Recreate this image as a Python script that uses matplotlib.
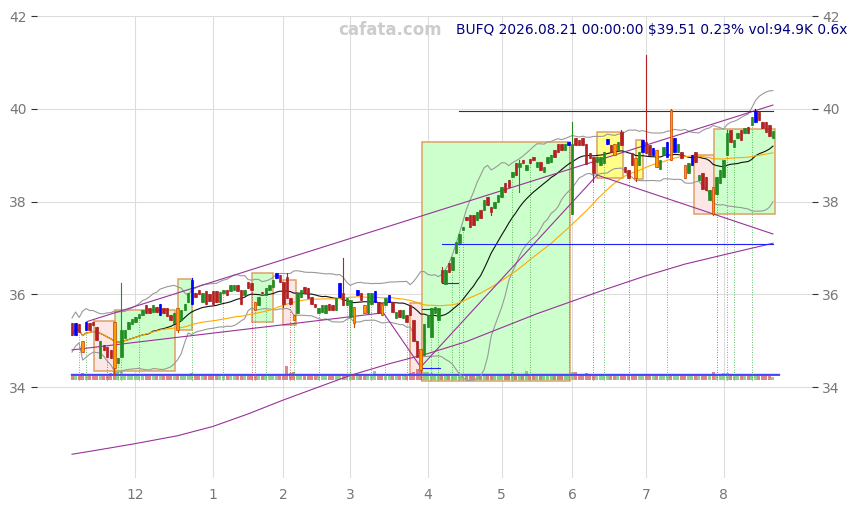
import numpy as np
import pandas as pd
import matplotlib
matplotlib.use("Agg")
import matplotlib.pyplot as plt
from matplotlib.patches import Rectangle

# ---------------- data ----------------
holidays = ["2025-11-27", "2025-12-25", "2026-01-01", "2026-01-19", "2026-02-16",
            "2026-04-03", "2026-05-25", "2026-06-19", "2026-07-03"]
dates = pd.bdate_range("2025-11-04", "2026-08-21", freq="C", holidays=holidays)

opens = [
    35.37, 35.12, 35.35, 35.00, 35.22, 35.37, 35.41, 35.30, 34.62, 34.91, 34.87, 34.80, 35.40, 34.51, 34.65, 35.05, 35.25, 35.36,
    35.40, 35.48, 35.55, 35.77, 35.70, 35.62, 35.73, 35.55, 35.71, 35.70, 35.55, 35.37, 35.70, 35.44, 35.66, 35.84, 35.80, 36.02, 36.10, 35.84, 36.06, 36.00,
    36.06, 36.06, 35.84, 36.02, 36.09, 36.06, 36.09, 36.20, 36.09, 35.98, 36.27, 36.24, 35.84, 35.77, 36.05, 35.98, 36.09, 36.16, 36.34, 36.42,
    36.27, 36.38, 35.91, 35.55, 35.59, 35.95, 36.16, 36.13, 35.95, 35.80, 35.59, 35.62, 35.60, 35.80, 35.77, 35.66, 35.95, 36.02, 35.77,
    35.52, 35.73, 35.98, 36.02, 35.77, 35.59, 35.80, 35.84, 35.84, 35.80, 35.77, 35.84, 35.84, 35.48, 35.66, 35.48, 35.55, 35.77, 35.44, 35.00, 34.83, 34.70,
    35.30, 35.08, 35.59, 35.45, 36.52, 36.23, 36.67, 36.52, 36.88, 37.10, 37.38, 37.67, 37.71, 37.71, 37.60, 37.82, 37.82, 38.10, 37.89, 37.85, 38.00,
    38.10, 38.39, 38.46, 38.53, 38.82, 38.75, 38.89, 38.68, 38.91, 38.97, 38.75, 38.86, 38.64, 38.82, 38.85, 39.11, 39.25, 39.25, 39.11, 39.22,
    37.74, 39.36, 39.33, 39.36, 39.25, 39.04, 38.97, 38.86, 38.79, 38.82, 39.24, 39.22, 39.25, 39.11, 39.50, 38.75, 38.68, 39.04, 38.93, 38.79, 39.07,
    39.29, 39.22, 39.00, 39.11, 38.71, 39.00, 38.97, 39.97, 39.07, 39.07, 39.07, 38.79, 38.61, 38.79, 39.07, 38.46, 38.61, 38.53, 38.03, 38.32, 38.17, 38.39,
    38.53, 39.00, 39.54, 39.18, 39.36, 39.54, 39.47, 39.61, 39.65, 39.72, 39.94, 39.72, 39.72, 39.65, 39.36,
]
closes = [
    35.12, 35.38, 35.18, 34.75, 35.40, 35.23, 35.34, 35.02, 35.00, 34.80, 34.65, 34.62, 34.40, 34.62, 35.23, 35.23, 35.40, 35.47,
    35.52, 35.58, 35.66, 35.59, 35.59, 35.76, 35.62, 35.80, 35.60, 35.53, 35.45, 35.59, 35.23, 35.66, 35.80, 36.02, 36.30, 35.95, 36.00, 36.02, 35.80, 35.85,
    35.80, 35.84, 36.05, 36.09, 35.98, 36.20, 36.20, 36.06, 35.80, 36.09, 36.13, 36.09, 35.66, 35.95, 36.02, 36.13, 36.20, 36.31, 36.45, 36.27,
    35.80, 35.91, 35.80, 35.44, 36.02, 36.09, 36.02, 35.91, 35.80, 35.73, 35.70, 35.77, 35.77, 35.66, 35.66, 35.91, 36.24, 35.77, 35.91,
    35.88, 35.37, 36.09, 35.88, 35.59, 36.02, 36.02, 36.06, 35.59, 35.55, 35.91, 35.98, 35.62, 35.62, 35.52, 35.66, 35.41, 35.55, 35.00, 34.65, 34.37, 35.35,
    35.55, 35.70, 35.73, 35.70, 36.27, 36.52, 36.49, 36.81, 37.13, 37.31, 37.46, 37.60, 37.46, 37.49, 37.78, 37.64, 38.03, 37.92, 37.78, 38.00, 38.15,
    38.32, 38.21, 38.32, 38.64, 38.57, 38.82, 38.82, 38.79, 38.82, 38.89, 38.86, 38.68, 38.75, 38.97, 39.00, 38.97, 39.07, 39.10, 39.25, 39.29,
    39.25, 39.22, 39.22, 39.22, 38.80, 38.93, 38.61, 38.97, 38.97, 39.07, 39.34, 39.07, 39.00, 39.29, 39.22, 38.64, 38.50, 38.79, 38.50, 39.07, 39.33,
    39.04, 39.00, 39.15, 38.75, 38.89, 39.18, 39.29, 38.90, 39.36, 39.25, 38.93, 38.50, 38.82, 39.00, 38.86, 38.57, 38.28, 38.25, 38.25, 37.74, 38.53, 38.68,
    38.90, 39.47, 39.29, 39.33, 39.47, 39.33, 39.58, 39.47, 39.83, 39.96, 39.76, 39.58, 39.50, 39.42, 39.51,
]
# notable wicks (index: price)
high_ext = {14: 36.24, 34: 36.34, 61: 36.45, 77: 36.78, 105: 36.58, 127: 38.90, 142: 39.72,
            156: 39.55, 163: 41.16, 170: 40.00, 186: 39.55, 194: 40.00}
low_ext = {12: 34.25, 30: 35.18, 60: 35.72, 80: 35.30, 99: 34.25, 119: 37.70, 127: 38.21,
           148: 38.43, 160: 38.45, 182: 37.70}

volumes_k = [
    150, 170, 140, 210, 160, 150, 140, 170, 190, 160, 180, 200, 260, 230, 240, 170, 150, 140,
    160, 150, 140, 150, 130, 140, 150, 160, 140, 150, 150, 140, 170, 150, 140, 160, 200, 150, 140, 150, 160, 170,
    150, 140, 160, 150, 140, 150, 160, 150, 150, 140, 150, 170, 190, 150, 140, 160, 170, 150, 140, 160,
    170, 420, 200, 230, 180, 160, 150, 160, 150, 140, 150, 160, 140, 150, 140, 160, 180, 170, 150,
    160, 180, 150, 170, 190, 160, 150, 260, 170, 150, 160, 150, 180, 160, 150, 170, 190, 210, 240, 330, 290, 250,
    250, 200, 180, 190, 170, 160, 150, 170, 160, 150, 140, 150, 160, 150, 140, 150, 160, 150, 140, 150, 160,
    150, 140, 150, 240, 170, 160, 150, 260, 150, 140, 160, 150, 140, 150, 160, 150, 140, 150, 160, 150,
    250, 230, 180, 160, 200, 150, 170, 150, 140, 160, 150, 140, 160, 150, 170, 150, 140, 160, 150, 140, 150,
    160, 150, 140, 150, 160, 150, 140, 170, 150, 160, 150, 170, 150, 160, 150, 160, 150, 170, 150, 230, 160, 150,
    200, 220, 160, 150, 170, 150, 140, 150, 160, 150, 140, 150, 160, 150, 95,
]

blue_idx = [1, 4, 25, 34, 58, 76, 81, 86, 90, 141, 152, 162, 165, 169, 171, 176, 194]
orange_idx = [3, 12, 30, 52, 63, 80, 83, 88, 99, 154, 160, 166, 170, 174, 182]

green_signals = [2, 4, 13, 14, 19, 34, 43, 52, 55, 63, 78, 79, 85, 89, 95, 102, 104, 108, 110, 111,
                 125, 130, 141, 151, 169, 186, 188, 193]
red_signals = [10, 51, 62, 70, 99, 148, 158, 183]

# zones: (start idx, end idx, low, high, kind)
zones = [
    (6.3, 12.2, 34.34, 35.42, "pink"),
    (12.2, 29.3, 34.34, 35.66, "green"),
    (30.0, 34.1, 35.23, 36.33, "green"),
    (51.0, 57.0, 35.40, 36.46, "green"),
    (60.0, 63.6, 35.34, 36.31, "pink"),
    (96.0, 99.4, 34.26, 35.81, "pink"),
    (99.4, 141.5, 34.14, 39.28, "green"),
    (149.0, 156.3, 38.50, 39.50, "yellow"),
    (160.0, 162.2, 38.49, 39.33, "yellow"),
    (176.5, 182.4, 37.73, 39.00, "pink"),
    (182.4, 199.7, 37.73, 39.56, "green"),
]

# trend lines (idx, price)
upper_line = ([4.2, 199], [35.41, 40.08])
zigzag = ([0, 88.4, 99.0, 149.1, 199], [34.80, 35.60, 34.43, 38.57, 37.30])
long_avg_idx = [0, 8, 18, 30, 40, 50, 60, 70, 79, 90, 101, 112, 122, 132, 142, 152, 163, 174, 185, 199]
long_avg_val = [32.55, 32.65, 32.78, 32.95, 33.15, 33.42, 33.72, 34.00, 34.25, 34.50, 34.72, 34.98,
                35.28, 35.58, 35.85, 36.12, 36.40, 36.65, 36.85, 37.10]

# levels (start idx, end idx, price, colour)
levels = [
    (110, 199, 39.95, "#333333"),
    (105, 199, 37.08, "#2020ff"),
    (99, 104.5, 34.41, "#2020ff"),
    (99.4, 104.5, 35.68, "#2020ff"),
    (105, 109.6, 36.24, "#2020ff"),
]

month_ticks = [18, 40, 60, 79, 101, 122, 142, 163, 185]
month_labels = ["12", "1", "2", "3", "4", "5", "6", "7", "8"]
title_text = "BUFQ 2026.08.21 00:00:00 $39.51 0.23% vol:94.9K 0.6x"

# ---------------- figure ----------------
W, H = 857, 509
fig = plt.figure(figsize=(W / 100, H / 100), dpi=100)
ax = fig.add_axes([37 / W, 31 / H, 775 / W, 462 / H])
ax.set_xlim(-9.95, 210.1)
ax.set_ylim(32.038, 42.0)
for s in ax.spines.values():
    s.set_visible(False)
ax.set_yticks([34, 36, 38, 40, 42])
ax.set_xticks(month_ticks)
ax.set_xticklabels(month_labels)
ax.tick_params(axis="x", length=0, labelsize=10, labelcolor="#777777", pad=7)
ax.tick_params(axis="y", length=4, color="#333333", labelsize=10, labelcolor="#777777",
               right=True, labelright=True, left=True)
ax.grid(True, color="#dddddd", lw=0.8, zorder=0)
ax.set_axisbelow(True)

n = len(closes)
x = np.arange(n)
o = np.array(opens)
c = np.array(closes)

# zones
zcol = {"green": "#ccffcc", "pink": "#fde6e6", "yellow": "#ffff88"}
for a, b, lo, hi, k in zones:
    ax.add_patch(Rectangle((a, lo), b - a, hi - lo, facecolor=zcol[k], edgecolor="#dda066",
                           lw=1.1, zorder=1))

# indicators from the closes
cs = pd.Series(c)
sma20 = cs.rolling(20, min_periods=1).mean()
std20 = cs.rolling(20, min_periods=2).std().bfill()
sma50 = cs.rolling(50, min_periods=1).mean()
ax.plot(x, sma20 + 2 * std20, color="#999999", lw=0.8, zorder=3)
ax.plot(x, sma20 - 2 * std20, color="#999999", lw=0.8, zorder=3)
ax.plot(x, sma20, color="#111111", lw=0.8, zorder=3)
ax.plot(x, sma50, color="#ffaa00", lw=0.8, zorder=3)

# purple lines
pc = "#993399"
ax.plot(*upper_line, color=pc, lw=0.8, zorder=3)
ax.plot(*zigzag, color=pc, lw=0.8, zorder=3)
ax.plot(long_avg_idx, long_avg_val, color=pc, lw=0.8, zorder=3)

# levels
for a, b, p, col in levels:
    ax.plot([a, b], [p, p], color=col, lw=0.8, zorder=3)

# volume (bottom strip)
vbase = 34.15
vol = np.array(volumes_k, dtype=float)
vh = vol / vol.max() * 0.30
vcol = np.where(c >= o, "#66bb66", "#cc5555")
ax.bar(x, vh, bottom=vbase, width=0.85, color=vcol, alpha=0.7, zorder=2)
ax.plot([-0.4, n + 0.8], [34.26, 34.26], color="#8844aa", lw=0.7, zorder=2)
ax.plot([-0.4, n + 0.8], [34.28, 34.28], color="#4444ff", lw=1.0, zorder=2)

# signals
lows = np.minimum(o, c)
highs = np.maximum(o, c)
for i, v in low_ext.items():
    lows[i] = v
for i, v in high_ext.items():
    highs[i] = v
for i in green_signals:
    ax.plot([i, i], [vbase, lows[i]], color="#33aa33", lw=0.6, ls=(0, (1, 2)), zorder=2)
for i in red_signals:
    ax.plot([i, i], [vbase, lows[i]], color="#cc3333", lw=0.6, ls=(0, (1, 2)), zorder=2)

# candles
for i in range(n):
    up = c[i] >= o[i]
    if i in blue_idx:
        fc, ec = "#0000ff", "#0000ff"
    elif i in orange_idx:
        fc, ec = "#ff9900", "#cc4400"
    else:
        fc = "#228b22" if up else "#b22222"
        ec = fc
    ax.plot([i, i], [lows[i], highs[i]], color=ec, lw=0.8, zorder=4)
    lo_b, hi_b = min(o[i], c[i]), max(o[i], c[i])
    ax.add_patch(Rectangle((i - 0.35, lo_b), 0.7, max(hi_b - lo_b, 0.02), facecolor=fc,
                           edgecolor=ec, lw=0.5, zorder=5))

fig.text(390 / W, 1 - 30 / H, "cafata.com", color="#cccccc", fontsize=12, fontweight="bold",
         ha="center", va="center")
fig.text(847 / W, 1 - 30 / H, title_text, color="#000080", fontsize=9.9, ha="right", va="center")

fig.savefig("out.png", dpi=100)
